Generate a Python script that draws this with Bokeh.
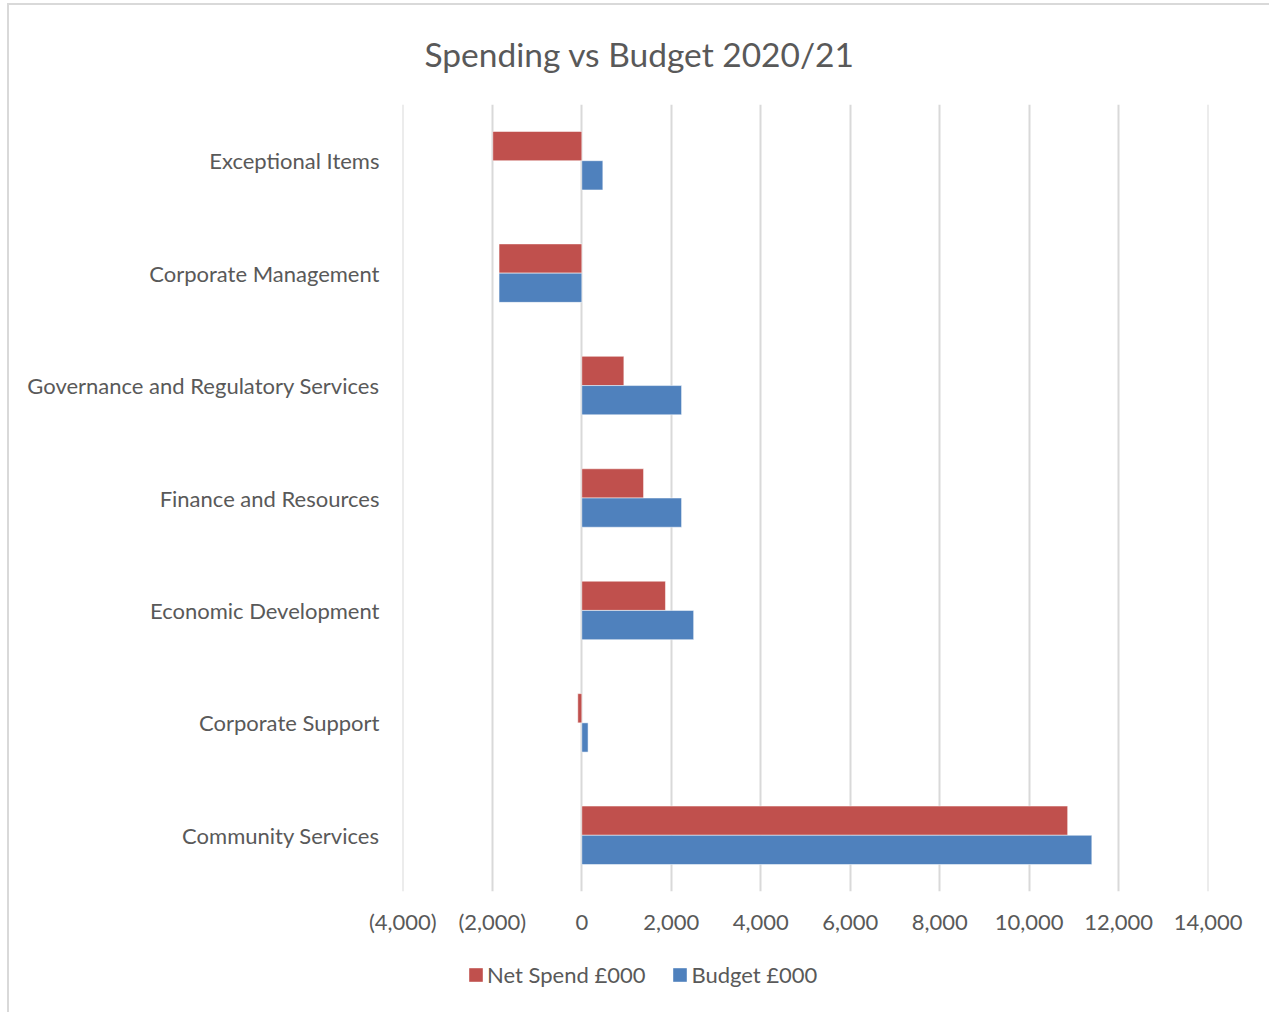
from bokeh.plotting import figure
from bokeh.layouts import column
from bokeh.models import (ColumnDataSource, FactorRange, Range1d, FixedTicker,
                          CustomJSTickFormatter, Legend, LegendItem, Title)
from bokeh.transform import dodge
from bokeh.embed import file_html
from bokeh.resources import INLINE

categories = ["Community Services", "Corporate Support", "Economic Development",
              "Finance and Resources", "Governance and Regulatory Services",
              "Corporate Management", "Exceptional Items"]
net_spend = [10860, -90, 1870, 1380, 940, -1850, -1990]
budget = [11400, 140, 2500, 2230, 2230, -1850, 470]
x_ticks = [-4000, -2000, 0, 2000, 4000, 6000, 8000, 10000, 12000, 14000]
series_names = ["Net Spend £000", "Budget £000"]
series_colors = ["#C0504D", "#4F81BD"]

FONT = "Lato"
TXT = "#595959"

src = ColumnDataSource(dict(cat=categories, net=net_spend, bud=budget,
                            zero=[0] * len(categories)))

p = figure(width=1262, height=945, output_backend="svg", toolbar_location=None,
           y_range=FactorRange(factors=categories), x_range=Range1d(-4008, 14008),
           min_border_left=393, min_border_right=63, min_border_top=98,
           min_border_bottom=59)
p.outline_line_color = None

p.title = Title(text="Spending vs Budget 2020/21", align="left", text_font=FONT,
                text_font_size="33.5px", text_color=TXT, text_font_style="normal",
                offset=22, standoff=57, vertical_align="top")

r_net = p.hbar(y=dodge("cat", 0.13, range=p.y_range), left="zero", right="net",
               height=0.26, source=src, fill_color=series_colors[0], line_color="white",
               line_alpha=0.5, line_width=1)
r_bud = p.hbar(y=dodge("cat", -0.13, range=p.y_range), left="zero", right="bud",
               height=0.26, source=src, fill_color=series_colors[1], line_color="white",
               line_alpha=0.5, line_width=1)

p.xaxis.ticker = FixedTicker(ticks=x_ticks)
p.xaxis.formatter = CustomJSTickFormatter(code="""
const s = Math.abs(tick).toLocaleString('en-US');
return tick < 0 ? '(' + s + ')' : s;
""")
for ax in (p.xaxis[0], p.yaxis[0]):
    ax.axis_line_color = None
    ax.major_tick_line_color = None
    ax.minor_tick_line_color = None
    ax.major_label_text_font = FONT
    ax.major_label_text_font_size = "22px"
    ax.major_label_text_color = TXT
p.xaxis.major_label_standoff = 10
p.yaxis.major_label_standoff = 17

p.xgrid.ticker = FixedTicker(ticks=x_ticks)
p.xgrid.grid_line_color = "#d9d9d9"
p.xgrid.grid_line_width = 2
p.ygrid.grid_line_color = None

# legend strip (frame is aligned with the main plot's frame by the column layout)
lg = figure(width=1262, height=62, output_backend="svg", toolbar_location=None,
            x_range=Range1d(0, 1), y_range=Range1d(0, 1),
            min_border=0, outline_line_color=None)
lg.axis.visible = False
lg.grid.visible = False
dummies = []
for c in series_colors:
    dummies.append(lg.hbar(y=[-10], left=[0], right=[1], height=1, fill_color=c,
                           line_color=None))
legend = Legend(items=[LegendItem(label=n, renderers=[r]) for n, r in zip(series_names, dummies)],
                orientation="horizontal", location=(65, 24),
                label_text_font=FONT, label_text_font_size="22px",
                label_text_color=TXT, glyph_width=17, glyph_height=17,
                label_standoff=3, spacing=26, border_line_color=None,
                background_fill_alpha=0, padding=0, margin=0)
lg.add_layout(legend, "center")

layout = column(p, lg, spacing=0, margin=(3, 0, 0, 7),
                styles={"border-top": "2px solid #d9d9d9",
                        "border-left": "2px solid #d9d9d9"})

open("out.html", "w").write(file_html(layout, INLINE))
